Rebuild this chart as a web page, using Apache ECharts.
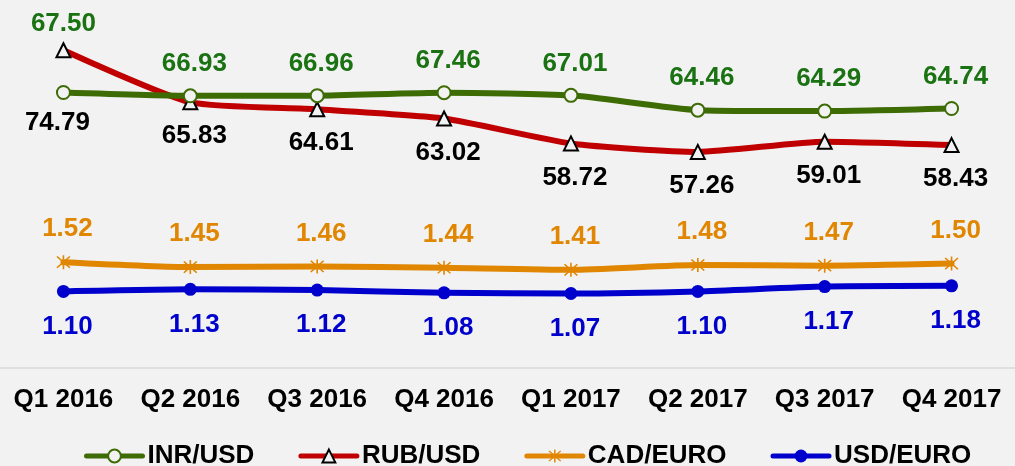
<!DOCTYPE html>
<html>
<head>
<meta charset="utf-8">
<script src="https://cdn.jsdelivr.net/npm/echarts@6/dist/echarts.min.js"></script>
<style>
html,body{margin:0;padding:0;background:#f2f2f2;}
#chart{width:1015px;height:466px;}
</style>
</head>
<body>
<div id="chart"></div>
<script>
var categories = ['Q1 2016','Q2 2016','Q3 2016','Q4 2016','Q1 2017','Q2 2017','Q3 2017','Q4 2017'];
var inrUsd  = [67.50, 66.93, 66.96, 67.46, 67.01, 64.46, 64.29, 64.74];
var rubUsd  = [74.79, 65.83, 64.61, 63.02, 58.72, 57.26, 59.01, 58.43];
var cadEuro = [1.52, 1.45, 1.46, 1.44, 1.41, 1.48, 1.47, 1.50];
var usdEuro = [1.10, 1.13, 1.12, 1.08, 1.07, 1.10, 1.17, 1.18];

var FONT = '"Liberation Sans", Arial, Helvetica, sans-serif';
var starPath = 'path://M9 0L11 0L11 20L9 20Z M1.3 2.7L2.7 1.3L18.7 17.3L17.3 18.7Z M17.3 1.3L18.7 2.7L2.7 18.7L1.3 17.3Z';
var LW = 6;

function lbl(color, dy) {
  return {show: true, position: 'inside', offset: [4, dy], color: color,
    fontFamily: FONT, fontWeight: 'bold', fontSize: 26,
    formatter: function (p) { return p.value.toFixed(2); }};
}
function withFirst(arr, offset) {
  return arr.map(function (v, i) {
    return i === 0 ? {value: v, label: {offset: offset}} : v;
  });
}
function ls(color) {
  return {color: color, width: LW, cap: 'round', join: 'round'};
}

var chart = echarts.init(document.getElementById('chart'));
chart.setOption({
  backgroundColor: '#f2f2f2',
  animation: false,
  grid: {left: 0, right: -11, top: 20, bottom: 98},
  xAxis: {
    type: 'category', data: categories, boundaryGap: true,
    axisTick: {show: false},
    axisLine: {lineStyle: {color: '#d9d9d9', width: 1.5}},
    axisLabel: {interval: 0, margin: 19, color: '#000', fontFamily: FONT, fontWeight: 'bold', fontSize: 26}
  },
  yAxis: [
    {type: 'value', min: 20, max: 80, show: false},
    {type: 'value', min: 0, max: 5, show: false}
  ],
  legend: {
    left: 84, top: 443, padding: 0, itemWidth: 56, itemHeight: 16, itemGap: 44,
    lineStyle: {width: 5, cap: 'round'},
    textStyle: {color: '#000', fontFamily: FONT, fontWeight: 'bold', fontSize: 26},
    data: ['INR/USD','RUB/USD','CAD/EURO','USD/EURO']
  },
  series: [
    {
      name: 'INR/USD', type: 'line', yAxisIndex: 0, smooth: 0.2,
      data: withFirst(inrUsd, [0, -69]),
      symbol: 'circle', symbolSize: 13,
      lineStyle: ls('#3d6b04'), emphasis: {disabled: true},
      itemStyle: {color: '#f2f2f2', borderColor: '#3d6b04', borderWidth: 2},
      label: lbl('#1a7212', -32), z: 3
    },
    {
      name: 'RUB/USD', type: 'line', yAxisIndex: 0, smooth: 0.2,
      data: withFirst(rubUsd, [-6, 73]),
      symbol: 'triangle', symbolSize: 14,
      lineStyle: ls('#c00000'), emphasis: {disabled: true},
      itemStyle: {color: '#f2f2f2', borderColor: '#000', borderWidth: 2},
      label: lbl('#000', 34), z: 2
    },
    {
      name: 'CAD/EURO', type: 'line', yAxisIndex: 1, smooth: 0.2,
      data: cadEuro,
      symbol: starPath, symbolSize: 14,
      lineStyle: ls('#e08600'), emphasis: {disabled: true},
      itemStyle: {color: '#e08600'},
      label: lbl('#e08600', -33)
    },
    {
      name: 'USD/EURO', type: 'line', yAxisIndex: 1, smooth: 0.2,
      data: usdEuro,
      symbol: 'circle', symbolSize: 13,
      lineStyle: ls('#0000cc'), emphasis: {disabled: true},
      itemStyle: {color: '#0000cc'},
      label: lbl('#0000cc', 35)
    }
  ]
});
</script>
</body>
</html>
